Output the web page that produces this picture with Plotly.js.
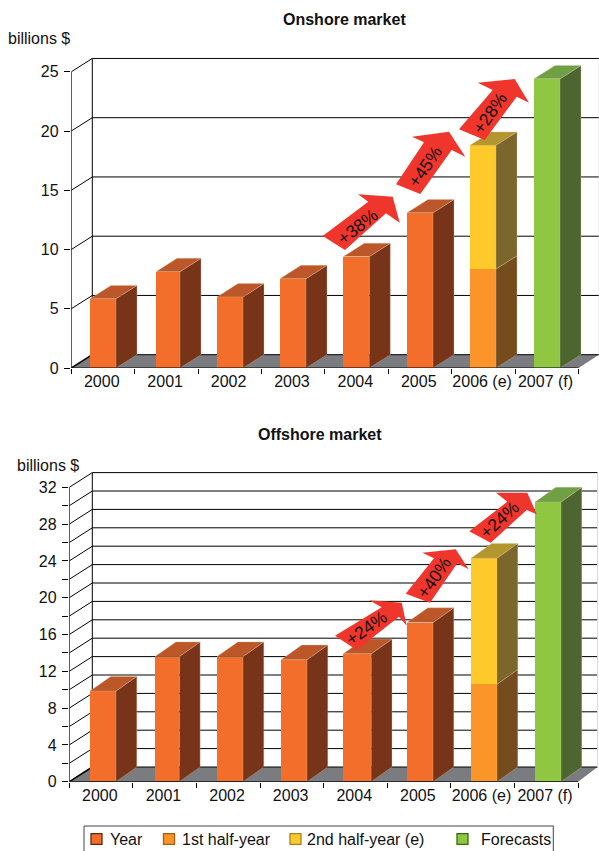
<!DOCTYPE html>
<html>
<head>
<meta charset="utf-8">
<script src="https://cdn.plot.ly/plotly-3.0.1.min.js"></script>
<style>html,body{margin:0;padding:0;background:#fff;overflow:hidden}</style>
</head>
<body>
<div id="chart" style="width:599px;height:851px"></div>
<script>
// Market size by year, in billions of dollars
const yearLabels = ['2000', '2001', '2002', '2003', '2004', '2005', '2006 (e)', '2007 (f)'];

const onshoreYear = [5.85, 8.13, 6.0, 7.54, 9.4, 13.1];
const onshoreFirstHalf = [8.35];
const onshoreSecondHalf = [10.45];
const onshoreForecast = [24.4];
const onshoreGrowth = ['+38%', '+45%', '+28%'];

const offshoreYear = [9.85, 13.6, 13.6, 13.26, 13.9, 17.3];
const offshoreFirstHalf = [10.6];
const offshoreSecondHalf = [13.7];
const offshoreForecast = [30.4];
const offshoreGrowth = ['+24%', '+40%', '+24%'];

const legendLabels = ['Year', '1st half-year', '2nd half-year (e)', 'Forecasts'];

const W = 599, H = 851;
const FONT = '"Liberation Sans", Arial, sans-serif';
const TEXT_SIZE = 16;
const GROWTH_SIZE = 17.5;
const px = v => v / W;
const py = v => 1 - v / H;

const COLORS = {
  year:   {front: '#f26e2a', side: '#783418', top: '#bc5729', edge: '#5e2a10'},
  first:  {front: '#fb952a', side: '#754c1e', edge: '#a85c10'},
  second: {front: '#fec92a', side: '#7b662c', top: '#b3962e', edge: '#a8841a'},
  fore:   {front: '#8fc742', side: '#4d6631', top: '#70a044', edge: '#3a6a10'},
  floor: '#7a7c80',
  arrow: '#f0352c'
};

const onshore = {
  suffix: '', left: 71.3, slot: 63.4, zeroY: 368, unit: 11.85,
  depthX: 21, depthY: 13.3, wallLeft: 21, wallRight: 20.7,
  max: 25, gridStep: 5, labelStep: 5, labelShift: 0,
  // bar placement in pixels: shift from the slot centre, and width
  barShifts: [0, 1.6, 0.2, -0.2, -0.3, 0, -0.4, 0.2],
  barWidths: [26, 24, 26, 26, 26, 26, 26, 26],
  title: 'Onshore market', titleX: 344, titleY: 19, unitX: 39, unitY: 39,
  year: onshoreYear, first: onshoreFirstHalf, second: onshoreSecondHalf, fore: onshoreForecast,
  growth: onshoreGrowth, growthAngles: [-38, -55, -55],
  // arrow outlines, in pixels from the top of the bar each arrow points to
  arrows: [
    [[-97.3,-23.2],[-51.7,11.1],[-62,18.5],[-27.3,16.1],[-20.3,-9.9],[-34,-0.5],[-75,-37.2]],
    [[-87.4,-39.1],[-59.4,2.9],[-71.4,8.5],[-34.4,13.5],[-18.1,-11.5],[-31.7,-4.8],[-63.1,-48.8]],
    [[-87.8,-50.4],[-54.1,-11.1],[-69.1,-3.8],[-32.1,-0.1],[-17.8,-23.8],[-30.1,-17.8],[-62.1,-61.1]]
  ],
  growthOffsets: [[-62.7,-13.9],[-58.4,-22.1],[-56.8,-33.8]]
};

const offshore = {
  suffix: '2', left: 69.3, slot: 63.6, zeroY: 781.7, unit: 9.2,
  depthX: 20.8, depthY: 14.7, wallLeft: 23, wallRight: 19.5,
  max: 32, gridStep: 2, labelStep: 4, labelShift: 1.5,
  barShifts: [1.9, 2.5, 1.7, 2.1, 1.7, 0.9, 1.3, 1.7],
  barWidths: [26, 24.3, 26, 26, 28, 26, 26, 26],
  title: 'Offshore market', titleX: 319.5, titleY: 434, unitX: 48, unitY: 465,
  year: offshoreYear, first: offshoreFirstHalf, second: offshoreSecondHalf, fore: offshoreForecast,
  growth: offshoreGrowth, growthAngles: [-35, -55, -42],
  arrows: [
    [[-84.1,-13.2],[-37.4,15.2],[-49.8,22.2],[-17.4,19.8],[-12.4,-3.2],[-20.1,5.8],[-62.4,-27.5]],
    [[-77,-35.6],[-48.7,-0.2],[-60.4,5.4],[-27,8.8],[-14,-11.2],[-25.4,-5.2],[-52.7,-44.6]],
    [[-77,-29.3],[-39,0.3],[-50.3,9.3],[-19,9.3],[-9.6,-12.3],[-19.6,-8],[-55.6,-40.7]]
  ],
  growthOffsets: [[-52.4,-5.8],[-48.7,-20.2],[-47,-18]]
};

const traces = [], shapes = [], annotations = [];
const layout = {
  width: W, height: H, autosize: false,
  margin: {l: 0, r: 0, t: 0, b: 0},
  paper_bgcolor: '#fff', plot_bgcolor: 'rgba(0,0,0,0)',
  showlegend: false, hovermode: false, barmode: 'stack',
  font: {family: FONT, size: TEXT_SIZE, color: '#111'},
  shapes, annotations
};

function addLabel(text, x, y, opts) {
  annotations.push(Object.assign({
    text, x: px(x), y: py(y), xref: 'paper', yref: 'paper',
    showarrow: false, xanchor: 'center', yanchor: 'middle',
    font: {family: FONT, size: TEXT_SIZE, color: '#111'}
  }, opts || {}));
}

function addChart(c) {
  const xa = 'x' + c.suffix, ya = 'y' + c.suffix;
  const ddx = c.depthX / c.slot, ddy = c.depthY / c.unit;
  const topPx = c.zeroY - c.unit * c.max - c.depthY - 1;
  const slots = yearLabels.length;

  layout['xaxis' + c.suffix] = {
    domain: [px(c.left), 1], range: [0, (W - c.left) / c.slot],
    anchor: ya, showgrid: false, zeroline: false, showline: false,
    tickmode: 'array', tickvals: yearLabels.map((_, i) => i + 0.48), ticktext: yearLabels,
    ticks: '', ticklabelstandoff: 2,
    tickfont: {family: FONT, size: TEXT_SIZE, color: '#111'},
    minor: {tickmode: 'array', tickvals: yearLabels.map((_, i) => i).concat([slots]),
            ticks: 'outside', ticklen: 5, tickcolor: '#000', tickwidth: 1}
  };
  layout['yaxis' + c.suffix] = {
    domain: [py(c.zeroY), py(topPx)], range: [0, (c.zeroY - topPx) / c.unit],
    anchor: xa, showgrid: false, zeroline: false, showline: false,
    tick0: 0, dtick: c.labelStep, ticks: 'outside', ticklen: 6.5, tickcolor: '#000', tickwidth: 1,
    ticklabelstandoff: 2, ticklabelshift: c.labelShift,
    tickfont: {family: FONT, size: TEXT_SIZE, color: '#111'},
    minor: c.gridStep !== c.labelStep
      ? {dtick: c.gridStep, tick0: 0, ticks: 'outside', ticklen: 6.5, tickcolor: '#000', tickwidth: 1}
      : {}
  };

  const wallL = c.wallLeft / c.slot, wallR = slots + c.wallRight / c.slot;
  const line = (x0, y0, x1, y1, color, width) => shapes.push({
    type: 'line', xref: xa, yref: ya, x0, y0, x1, y1, layer: 'below',
    line: {color, width}
  });

  // floor of the box
  shapes.push({
    type: 'path', xref: xa, yref: ya, layer: 'below', line: {width: 0}, fillcolor: COLORS.floor,
    path: `M0,0 L${wallL},${ddy} L${wallR},${ddy} L${slots},0 Z`
  });

  // back wall: one line per grid step, plus its return to the value axis
  for (let v = 0; v <= c.max; v += c.gridStep) {
    line(wallL, v + ddy, wallR, v + ddy, '#000', 1);
    line(0, v, wallL, v + ddy, '#000', v === 0 ? 1.5 : 1);
  }
  line(wallL, ddy, wallL, c.max + ddy, '#000', 1);
  line(wallR, ddy, wallR, c.max + ddy, '#d8d8d8', 1);

  // front faces
  const centers = i => i + 0.5 + c.barShifts[i] / c.slot;
  const widths = i => c.barWidths[i] / c.slot;
  const bar = (name, idx, vals, col) => traces.push({
    type: 'bar', name, xaxis: xa, yaxis: ya,
    x: idx.map(centers), y: vals, width: idx.map(widths),
    marker: {color: col.front, line: {width: 0}}, hoverinfo: 'skip'
  });
  const yearIdx = c.year.map((_, i) => i);
  bar(legendLabels[0], yearIdx, c.year, COLORS.year);
  bar(legendLabels[1], [6], c.first, COLORS.first);
  bar(legendLabels[2], [6], c.second, COLORS.second);
  bar(legendLabels[3], [7], c.fore, COLORS.fore);

  // side and top faces, offset by the depth of the box, with a faint light rim
  const poly = (xs, ys, color) => traces.push({
    type: 'scatter', mode: 'lines', xaxis: xa, yaxis: ya,
    x: xs, y: ys, fill: 'toself', fillcolor: color, hoverinfo: 'skip',
    line: {color: 'rgba(215,190,160,0.55)', width: 0.6}
  });
  const side = (i, v0, v1, color) => {
    const r = centers(i) + widths(i) / 2;
    poly([r, r + ddx, r + ddx, r, r], [v0, v0 + ddy, v1 + ddy, v1, v0], color);
  };
  const top = (i, v, color) => {
    const l = centers(i) - widths(i) / 2, r = centers(i) + widths(i) / 2;
    poly([l, r, r + ddx, l + ddx, l], [v, v, v + ddy, v + ddy, v], color);
  };
  c.year.forEach((v, i) => { side(i, 0, v, COLORS.year.side); top(i, v, COLORS.year.top); });
  const split = c.first[0], total = split + c.second[0];
  side(6, 0, split, COLORS.first.side);
  side(6, split, total, COLORS.second.side);
  top(6, total, COLORS.second.top);
  side(7, 0, c.fore[0], COLORS.fore.side);
  top(7, c.fore[0], COLORS.fore.top);

  // front edges of the box, left unclipped so they sit on the plot border
  const edge = (xs, ys) => traces.push({
    type: 'scatter', mode: 'lines', xaxis: xa, yaxis: ya, x: xs, y: ys, cliponaxis: false,
    line: {color: '#000', width: 1.2}, hoverinfo: 'skip'
  });
  edge([0, 0], [0, c.max]);
  edge([0, slots], [0, 0]);

  // growth arrows, each anchored to the top of the bar it reaches
  const targets = [[5.5, c.year[5]], [6.5, total], [7.5, c.fore[0]]];
  c.arrows.forEach((outline, i) => {
    shapes.push({
      type: 'path', layer: 'above', xref: xa, yref: ya,
      xsizemode: 'pixel', ysizemode: 'pixel',
      xanchor: targets[i][0], yanchor: targets[i][1],
      path: 'M' + outline.map(p => p.join(',')).join(' L') + ' Z',
      fillcolor: COLORS.arrow, line: {width: 0}
    });
    annotations.push({
      text: c.growth[i], xref: xa, yref: ya, x: targets[i][0], y: targets[i][1],
      xshift: c.growthOffsets[i][0], yshift: c.growthOffsets[i][1],
      showarrow: false, textangle: c.growthAngles[i], xanchor: 'center', yanchor: 'middle',
      font: {family: FONT, size: GROWTH_SIZE, color: '#111'}
    });
  });

  addLabel('<b>' + c.title + '</b>', c.titleX, c.titleY);
  addLabel('billions $', c.unitX, c.unitY);
}

addChart(onshore);
addChart(offshore);

// key shared by both charts
const keyRect = (x0, y0, x1, y1, fill, stroke, w) => shapes.push({
  type: 'rect', xref: 'paper', yref: 'paper', layer: 'above',
  x0: px(x0), x1: px(x1), y0: py(y0), y1: py(y1),
  fillcolor: fill, line: {color: stroke, width: w}
});
keyRect(84, 826, 553.3, 852, '#fff', '#444', 1);
const keyEntries = [[91, 107.8, COLORS.year], [163.5, 180, COLORS.first],
                    [290, 304.8, COLORS.second], [457, 478.5, COLORS.fore]];
keyEntries.forEach((e, i) => {
  keyRect(e[0], 833.7, e[0] + 11, 844.3, e[2].front, e[2].edge, 1.3);
  addLabel(legendLabels[i], e[1], 839.5, {xanchor: 'left'});
});

Plotly.newPlot('chart', traces, layout, {displayModeBar: false, responsive: false});
</script>
</body>
</html>
